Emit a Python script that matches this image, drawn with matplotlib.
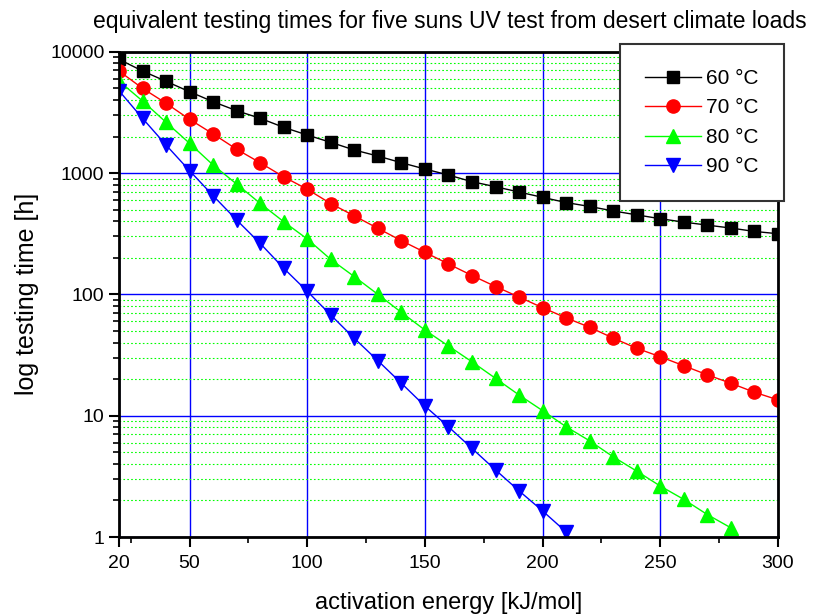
import numpy as np
import matplotlib
matplotlib.use("Agg")
import matplotlib.pyplot as plt
from matplotlib.ticker import FixedLocator, LogLocator, NullFormatter

plt.rcParams['font.family'] = ['Liberation Sans', 'DejaVu Sans']

# activation energy [kJ/mol]
energy = list(range(20, 310, 10))

# equivalent testing times [h]
t60 = [8655, 6935, 5700, 4680, 3870, 3263, 2825, 2380, 2056, 1790,
       1548, 1380, 1216, 1079, 963, 848, 771, 697, 630, 571,
       530, 487, 452, 420, 394, 372, 352, 330, 316]
t70 = [6935, 4990, 3760, 2770, 2100, 1570, 1215, 930, 735, 560,
       443, 350, 277, 222, 178, 143, 116, 95, 77.6, 64,
       53.5, 43.6, 35.9, 30.6, 25.8, 21.7, 18.5, 15.6, 13.5]
t80 = [5730, 3925, 2620, 1758, 1164, 811, 562, 397, 286, 194,
       140, 100, 71, 50.8, 37.5, 27.8, 20.3, 14.8, 11.0, 8.1,
       6.2, 4.58, 3.49, 2.63, 2.04, 1.53, 1.19]
t90 = [4770, 2825, 1702, 1045, 650, 410, 263, 164, 106, 67.5,
       43.4, 28.4, 18.5, 12.0, 8.1, 5.37, 3.57, 2.40, 1.64, 1.10]

labels = ['60 °C', '70 °C', '80 °C', '90 °C']
xticks = [20, 50, 100, 150, 200, 250, 300]

fig = plt.figure(figsize=(8.25, 6.14), dpi=100)
ax = fig.add_axes([0.1442, 0.1254, 0.7988, 0.7904])

ax.plot(energy[:len(t60)], t60, '-s', color='black', lw=1, ms=9, label=labels[0])
ax.plot(energy[:len(t70)], t70, '-o', color='#ff0000', lw=1, ms=9.5, label=labels[1])
ax.plot(energy[:len(t80)], t80, '-^', color='#00ff00', lw=1, ms=10, label=labels[2])
ax.plot(energy[:len(t90)], t90, '-v', color='#0000ff', lw=1, ms=10, label=labels[3])

ax.set_yscale('log')
ax.set_xlim(20, 300)
ax.set_ylim(1, 10000)

ax.xaxis.set_major_locator(FixedLocator(xticks))
ax.xaxis.set_minor_locator(FixedLocator(list(range(25, 300, 50))))
ax.set_xticklabels([str(v) for v in xticks])
ax.yaxis.set_minor_locator(LogLocator(base=10, subs=np.arange(2, 10)))
ax.yaxis.set_minor_formatter(NullFormatter())
ax.set_yticks([1, 10, 100, 1000, 10000])
ax.set_yticklabels(['1', '10', '100', '1000', '10000'])

ax.tick_params(which='major', direction='out', length=7, width=1.5, labelsize=14)
ax.tick_params(axis='x', which='major', pad=6)
ax.tick_params(which='minor', direction='out', length=4, width=1.2)

ax.set_axisbelow(True)
ax.grid(True, which='major', axis='both', color='#0000ff', lw=1)
ax.grid(True, which='minor', axis='y', color='#00ff00', lw=0.8, ls=(0, (1.5, 2)))
for s in ax.spines.values():
    s.set_linewidth(2)
    s.set_zorder(5)

ax.set_xlabel('activation energy [kJ/mol]', fontsize=17, labelpad=14)
ax.set_ylabel('log testing time [h]', fontsize=18, labelpad=8)
fig.text(0.545, 0.965, 'equivalent testing times for five suns UV test from desert climate loads',
         ha='center', va='center', fontsize=16.5)

leg = fig.legend(loc='upper left', bbox_to_anchor=(620 / 825, 1 - 44 / 614),
                 borderaxespad=0, fontsize=15, handlelength=2.7, handletextpad=0.25,
                 borderpad=1.2, labelspacing=0.5, fancybox=False,
                 framealpha=1, edgecolor='#333333')
leg.get_frame().set_linewidth(1.5)

plt.savefig("out.png", dpi=100)
